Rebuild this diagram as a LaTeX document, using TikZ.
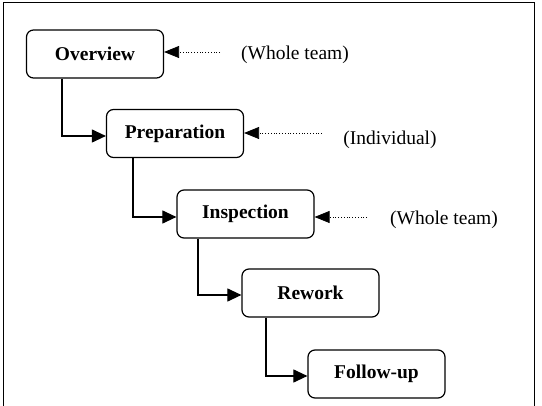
\documentclass[tikz,border=0pt]{standalone}
\usepackage{fontspec}
\setmainfont{Liberation Serif}
\usetikzlibrary{arrows.meta}
\begin{document}
\begin{tikzpicture}[x=1pt,y=-1pt,
  stage/.style={draw,line width=1.2pt,rounded corners=7pt,minimum width=137pt,minimum height=48pt,font=\fontsize{19.5}{22}\selectfont\bfseries,inner sep=0pt},
  flow/.style={line width=1.1pt,-{Triangle[length=14pt,width=13pt]}},
  note/.style={dotted,line width=0.8pt,-{Triangle[length=15pt,width=12pt]}},
  who/.style={font=\fontsize{19.5}{22}\selectfont,inner sep=0pt}]
\useasboundingbox (0,0) rectangle (542,406);
\draw[line width=1pt] (3,406) -- (3,3) -- (534,3) -- (534,406);
\node[stage] (ov) at (95,54) {Overview};
\node[stage] (pr) at (175,133.5) {Preparation};
\node[stage] (in) at (245.5,214) {Inspection};
\node[stage] (rw) at (310.5,293) {Rework};
\node[stage] (fu) at (376.5,374) {Follow-up};
\node[who] (w1) at (295,55) {(Whole team)};
\node[who] (w2) at (390,140) {(Individual)};
\node[who] (w3) at (444,220) {(Whole team)};
\coordinate (d1) at (220,52);
\coordinate (d2) at (322,133);
\coordinate (d3) at (367,217);
\draw[note] (d1) -- (ov.east |- d1);
\draw[note] (d2) -- (pr.east |- d2);
\draw[note] (d3) -- (in.east |- d3);
\draw[flow] (ov.south -| 62,0) |- (pr.west |- 0,136);
\draw[flow] (pr.south -| 133,0) |- (in.west |- 0,217);
\draw[flow] (in.south -| 198,0) |- (rw.west |- 0,295);
\draw[flow] (rw.south -| 266,0) |- (fu.west |- 0,376);
\end{tikzpicture}
\end{document}
